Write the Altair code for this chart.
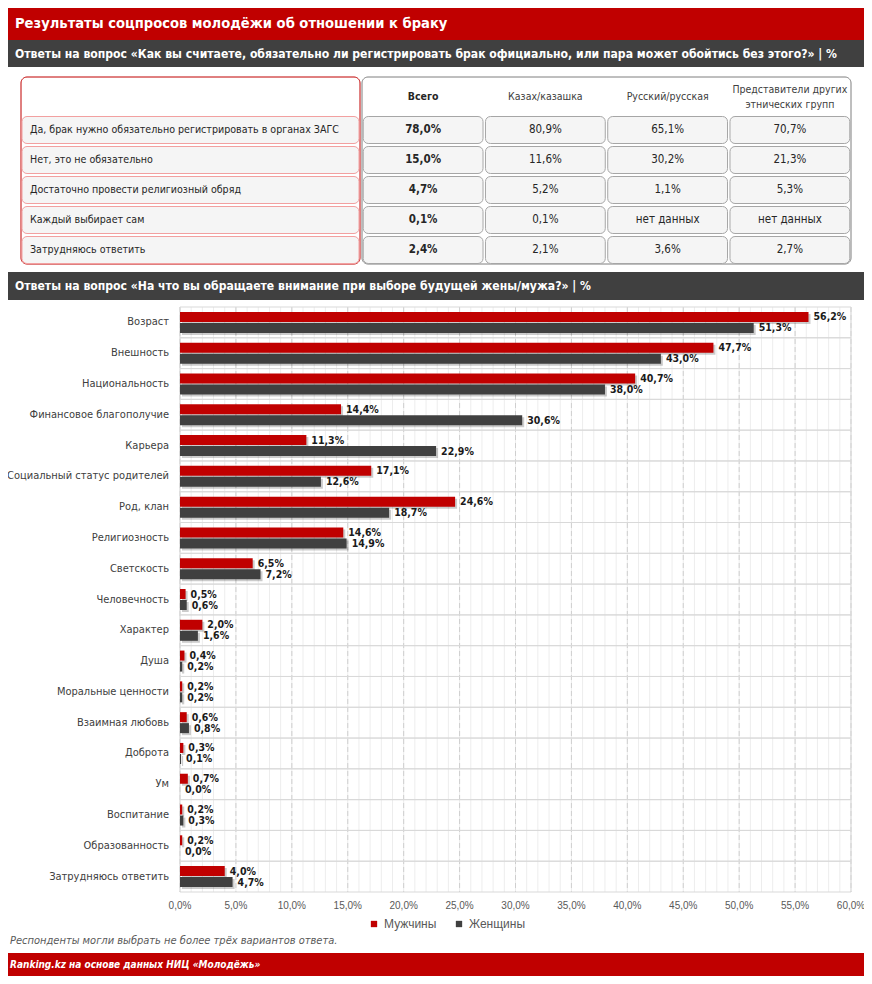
import altair as alt
import pandas as pd

# ---------------- data ----------------
title = "Результаты соцпросов молодёжи об отношении к браку"
sub1 = "Ответы на вопрос «Как вы считаете, обязательно ли регистрировать брак официально, или пара может обойтись без этого?» | %"
sub2 = "Ответы на вопрос «На что вы обращаете внимание при выборе будущей жены/мужа?» | %"
note = "Респонденты могли выбрать не более трёх вариантов ответа."
source = "Ranking.kz на основе данных НИЦ «Молодёжь»"

table_rows = [
    "Да, брак нужно обязательно регистрировать в органах ЗАГС",
    "Нет, это не обязательно",
    "Достаточно провести религиозный обряд",
    "Каждый выбирает сам",
    "Затрудняюсь ответить",
]
table_cols = ["Всего", "Казах/казашка", "Русский/русская", "Представители других\nэтнических групп"]
col_total = [78.0, 15.0, 4.7, 0.1, 2.4]
col_kazakh = [80.9, 11.6, 5.2, 0.1, 2.1]
col_russian = [65.1, 30.2, 1.1, None, 3.6]
col_other = [70.7, 21.3, 5.3, None, 2.7]

categories = [
    "Возраст", "Внешность", "Национальность", "Финансовое благополучие", "Карьера",
    "Социальный статус родителей", "Род, клан", "Религиозность", "Светскость",
    "Человечность", "Характер", "Душа", "Моральные ценности", "Взаимная любовь",
    "Доброта", "Ум", "Воспитание", "Образованность", "Затрудняюсь ответить",
]
men = [56.2, 47.7, 40.7, 14.4, 11.3, 17.1, 24.6, 14.6, 6.5, 0.5, 2.0, 0.4, 0.2, 0.6, 0.3, 0.7, 0.2, 0.2, 4.0]
women = [51.3, 43.0, 38.0, 30.6, 22.9, 12.6, 18.7, 14.9, 7.2, 0.6, 1.6, 0.2, 0.2, 0.8, 0.1, 0.0, 0.3, 0.0, 4.7]
series = ["Мужчины", "Женщины"]
x_ticks = [0, 5, 10, 15, 20, 25, 30, 35, 40, 45, 50, 55, 60]
minor_grid = list(range(0, 61))

# ---------------- style ----------------
W, H = 856, 968
RED = "#C00000"
DARK = "#404040"
FONT = "DejaVu Sans Condensed"
AXFONT = "Liberation Sans"


def fmt(v):
    if v is None:
        return "нет данных"
    return f"{v:.1f}".replace(".", ",") + "%"


one = pd.DataFrame({"k": [0]})


def banner(y0, y1, color):
    return alt.Chart(one).mark_rect(color=color).encode(
        x=alt.value(0), x2=alt.value(W), y=alt.value(y0), y2=alt.value(y1)
    )


def label(text, x, y, size, weight="normal", style="normal", color="white", font=FONT):
    return alt.Chart(one).mark_text(
        text=text, align="left", baseline="middle", font=font, fontSize=size,
        fontWeight=weight, fontStyle=style, color=color
    ).encode(x=alt.value(x), y=alt.value(y))


deco = alt.layer(
    banner(0, 32, RED),
    label(title, 7, 16, 14.6, weight="bold"),
    banner(32, 59, DARK),
    label(sub1, 7, 46, 12.1, weight="bold"),
    banner(264, 292, DARK),
    label(sub2, 7, 278, 12.1, weight="bold"),
    label(note, 2, 933, 11, style="italic", color="#595959"),
    banner(945, 968, RED),
    label(source, 2, 956.5, 10, style="italic", weight="bold"),
    alt.Chart(one).mark_rect(fill="white", stroke=RED, strokeWidth=1, cornerRadius=6).encode(
        x=alt.value(13), x2=alt.value(352), y=alt.value(69), y2=alt.value(256)
    ),
    alt.Chart(one).mark_rect(fill="white", stroke="#7F7F7F", strokeWidth=1, cornerRadius=6).encode(
        x=alt.value(354), x2=alt.value(843), y=alt.value(69), y2=alt.value(256)
    ),
)

# ---------------- table ----------------
cells = []
for ci, (col, vals) in enumerate(zip(table_cols, [col_total, col_kazakh, col_russian, col_other])):
    for r, v in zip(table_rows, vals):
        cells.append({"row": r, "col": col, "txt": fmt(v), "bold": ci == 0})
df_cells = pd.DataFrame(cells)
df_rows = pd.DataFrame({"row": table_rows})
df_cols = pd.DataFrame({"col": table_cols, "kind": [0, 1, 1, 2]})

colscale = alt.Scale(domain=table_cols, range=[354, 843], paddingInner=0.02, paddingOuter=0.01)
rowscale = alt.Scale(domain=table_rows, range=[107, 257], paddingInner=0.1, paddingOuter=0.05)
XC = alt.X("col:N", scale=colscale, axis=None)
YR = alt.Y("row:N", scale=rowscale, axis=None)

table = alt.layer(
    alt.Chart(df_rows).mark_rect(fill="#F5F5F5", stroke="#F2A0A0", strokeWidth=1, cornerRadius=5).encode(
        x=alt.value(14), x2=alt.value(351), y=YR
    ),
    alt.Chart(df_rows).mark_text(align="left", baseline="middle", font=FONT, fontSize=10.6, color="#262626").encode(
        x=alt.value(22), y=YR, text="row:N"
    ),
    alt.Chart(df_cells).mark_rect(fill="#F5F5F5", stroke="#A6A6A6", strokeWidth=1, cornerRadius=5).encode(
        x=XC, y=YR
    ),
    alt.Chart(df_cells).transform_filter("datum.bold").mark_text(
        baseline="middle", font=FONT, fontSize=11.5, fontWeight="bold", color="#262626"
    ).encode(x=XC, y=YR, text="txt:N"),
    alt.Chart(df_cells).transform_filter("!datum.bold").mark_text(
        baseline="middle", font=FONT, fontSize=11.5, color="#262626"
    ).encode(x=XC, y=YR, text="txt:N"),
    alt.Chart(df_cols).transform_filter("datum.kind == 0").mark_text(
        baseline="middle", font=FONT, fontSize=10.5, fontWeight="bold", color="#262626"
    ).encode(x=XC, y=alt.value(89), text="col:N"),
    alt.Chart(df_cols).transform_filter("datum.kind == 1").mark_text(
        baseline="middle", font=FONT, fontSize=10.5, color="#404040"
    ).encode(x=XC, y=alt.value(89), text="col:N"),
    alt.Chart(df_cols).transform_filter("datum.kind == 2").mark_text(
        baseline="middle", font=FONT, fontSize=10.5, color="#404040", lineBreak="\n", lineHeight=15
    ).encode(x=XC, y=alt.value(82), text="col:N"),
)

# ---------------- bar chart ----------------
rows = []
for c, m, w in zip(categories, men, women):
    rows.append({"cat": c, "sex": series[0], "v": m})
    rows.append({"cat": c, "sex": series[1], "v": w})
df_bars = pd.DataFrame(rows)
df_cat = pd.DataFrame({"cat": categories})
df_ticks = pd.DataFrame({"t": x_ticks})
df_minor = pd.DataFrame({"g": minor_grid})

PX0, PX1, PY0, PY1 = 172, 843, 299, 884
xscale = alt.Scale(domain=[0, 60], range=[PX0, PX1], nice=False, zero=True)
yscale = alt.Scale(domain=categories, range=[PY0, PY1], paddingInner=0, paddingOuter=0)
XV = alt.X("v:Q", scale=xscale, axis=None)
YC = alt.Y("cat:N", scale=yscale, axis=None)
color = alt.Color(
    "sex:N",
    scale=alt.Scale(domain=series, range=[RED, DARK]),
    legend=alt.Legend(
        orient="none", legendX=360, legendY=910, direction="horizontal", title=None,
        symbolType="square", symbolSize=40, symbolStrokeWidth=0, labelFont=AXFONT,
        labelFontSize=12, labelColor="#595959", columnPadding=16, labelOffset=4,
    ),
)
label_expr = "replace(format(datum.v, '.1f'), '.', ',') + '%'"
OFF = {series[0]: -5.5, series[1]: 5.5}


def bars_for(s):
    base = alt.Chart(df_bars).transform_filter(alt.datum.sex == s)
    shadow = base.mark_bar(height=10, yOffset=OFF[s] + 2, xOffset=2, x2Offset=2, color="#000000", opacity=0.2).encode(
        x=XV, y=YC
    )
    bar = base.mark_bar(height=10, yOffset=OFF[s]).encode(x=XV, y=YC, color=color)
    txt = base.transform_calculate(lbl=label_expr).mark_text(
        align="left", baseline="middle", dx=5, yOffset=OFF[s] + 0.5, font=FONT, fontSize=10.5,
        fontWeight="bold", color="#1a1a1a"
    ).encode(x=XV, y=YC, text="lbl:N")
    return [shadow, bar, txt]


chart_bars = alt.layer(
    alt.Chart(df_minor).mark_rule(color="#EDEDED", strokeWidth=1).encode(
        x=alt.X("g:Q", scale=xscale, axis=None), y=alt.value(PY0), y2=alt.value(PY1)
    ),
    alt.Chart(df_ticks).mark_rule(color="#CFCFCF", strokeWidth=1, strokeDash=[5, 3]).encode(
        x=alt.X("t:Q", scale=xscale, axis=None), y=alt.value(PY0), y2=alt.value(PY1)
    ),
    alt.Chart(df_cat).mark_rect(fill=None, stroke="#D9D9D9", strokeWidth=1).encode(
        x=alt.value(PX0), x2=alt.value(PX1), y=YC
    ),
    *bars_for(series[0]),
    *bars_for(series[1]),
    alt.Chart(df_cat).mark_text(align="right", baseline="middle", font=FONT, fontSize=11, color=DARK).encode(
        x=alt.value(161), y=YC, text="cat:N"
    ),
    alt.Chart(df_ticks).transform_calculate(lbl="replace(format(datum.t, '.1f'), '.', ',') + '%'").mark_text(
        baseline="middle", font=AXFONT, fontSize=10, color="#595959"
    ).encode(x=alt.X("t:Q", scale=xscale, axis=None), y=alt.value(898), text="lbl:N"),
)

chart = (
    alt.layer(deco, table, chart_bars)
    .resolve_scale(x="independent", y="independent")
    .properties(width=W, height=H, padding=0, autosize=alt.AutoSizeParams(type="none"), background="white")
    .configure_view(stroke=None)
)

chart.save("out.html", embed_options={"renderer": "svg", "actions": False})
